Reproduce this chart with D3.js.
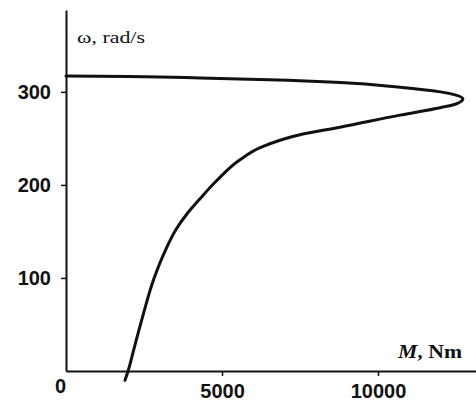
<!DOCTYPE html>
<html>
<head>
<meta charset="utf-8">
<script src="https://cdn.jsdelivr.net/npm/d3@7"></script>
<style>
  html, body { margin: 0; padding: 0; background: #fff; }
  svg { display: block; }
</style>
</head>
<body>
<svg id="chart" width="476" height="403"></svg>
<script>
// Torque M (Nm) and angular speed omega (rad/s) along the characteristic
const torque = [0, 2000, 4300, 6500, 8800, 10700, 12000, 12500, 12720,
  12500, 11990, 10700, 8780, 7500, 6860, 6220, 5575, 4840, 4265, 3880, 3525, 3190, 2805, 2485, 2195, 1990, 1890];
const omega = [317, 316.5, 315, 313, 310, 305, 300, 296.5, 292.5,
  287, 283, 275, 262, 254, 248, 240, 227, 205, 184, 169, 152, 130, 98, 62, 26, 0, -10];
const xTicks = [0, 5000, 10000];
const yTicks = [100, 200, 300];
const xTitleItalic = "M";
const xTitleRest = ", Nm";
const yTitle = "ω, rad/s";

const svg = d3.select("#chart");
const x = d3.scaleLinear().domain([0, 13140]).range([66, 476]);
const y = d3.scaleLinear().domain([0, 388]).range([371, 10]);

const ink = "#111";

// X axis
const gx = svg.append("g").attr("transform", `translate(0,${y(0)})`)
  .call(d3.axisBottom(x).tickValues(xTicks).tickSize(5).tickSizeOuter(0).tickPadding(8).tickFormat(d3.format("d")));
gx.select(".domain").attr("stroke", ink).attr("stroke-width", 2);
gx.selectAll(".tick line").attr("stroke", ink).attr("stroke-width", 1.5)
  .filter(d => d === 0).remove();
gx.selectAll(".tick text")
  .attr("font-family", "'Liberation Sans', Arial, sans-serif")
  .attr("font-weight", "bold").attr("font-size", 20).attr("fill", ink)
  .attr("transform", d => d === 0 ? "translate(-6,-5)" : null);

// Y axis
const gy = svg.append("g").attr("transform", `translate(${x(0)},0)`)
  .call(d3.axisLeft(y).tickValues(yTicks).tickSize(5).tickSizeOuter(0).tickPadding(10));
gy.select(".domain").attr("stroke", ink).attr("stroke-width", 2);
gy.selectAll(".tick line").attr("stroke", ink).attr("stroke-width", 1.5);
gy.selectAll(".tick text")
  .attr("font-family", "'Liberation Sans', Arial, sans-serif")
  .attr("font-weight", "bold").attr("font-size", 20).attr("fill", ink);

// Curve (M as a function of omega)
const pts = torque.map((m, i) => [m, omega[i]]);
const line = d3.line().x(d => x(d[0])).y(d => y(d[1])).curve(d3.curveMonotoneY);
svg.append("path").datum(pts)
  .attr("d", line)
  .attr("fill", "none").attr("stroke", ink).attr("stroke-width", 3)
  .attr("stroke-linejoin", "round").attr("stroke-linecap", "round");

// Axis titles
svg.append("text")
  .attr("x", 77).attr("y", 43)
  .attr("font-family", "'Liberation Serif', 'Times New Roman', serif")
  .attr("font-size", 17).attr("fill", ink)
  .attr("textLength", 68).attr("lengthAdjust", "spacingAndGlyphs")
  .text(yTitle);

const xt = svg.append("text")
  .attr("x", 398).attr("y", 358)
  .attr("font-family", "'Liberation Serif', 'Times New Roman', serif")
  .attr("font-size", 19).attr("font-weight", "bold").attr("fill", ink)
  .attr("textLength", 64).attr("lengthAdjust", "spacingAndGlyphs");
xt.append("tspan").attr("font-style", "italic").text(xTitleItalic);
xt.append("tspan").text(xTitleRest);
</script>
</body>
</html>
